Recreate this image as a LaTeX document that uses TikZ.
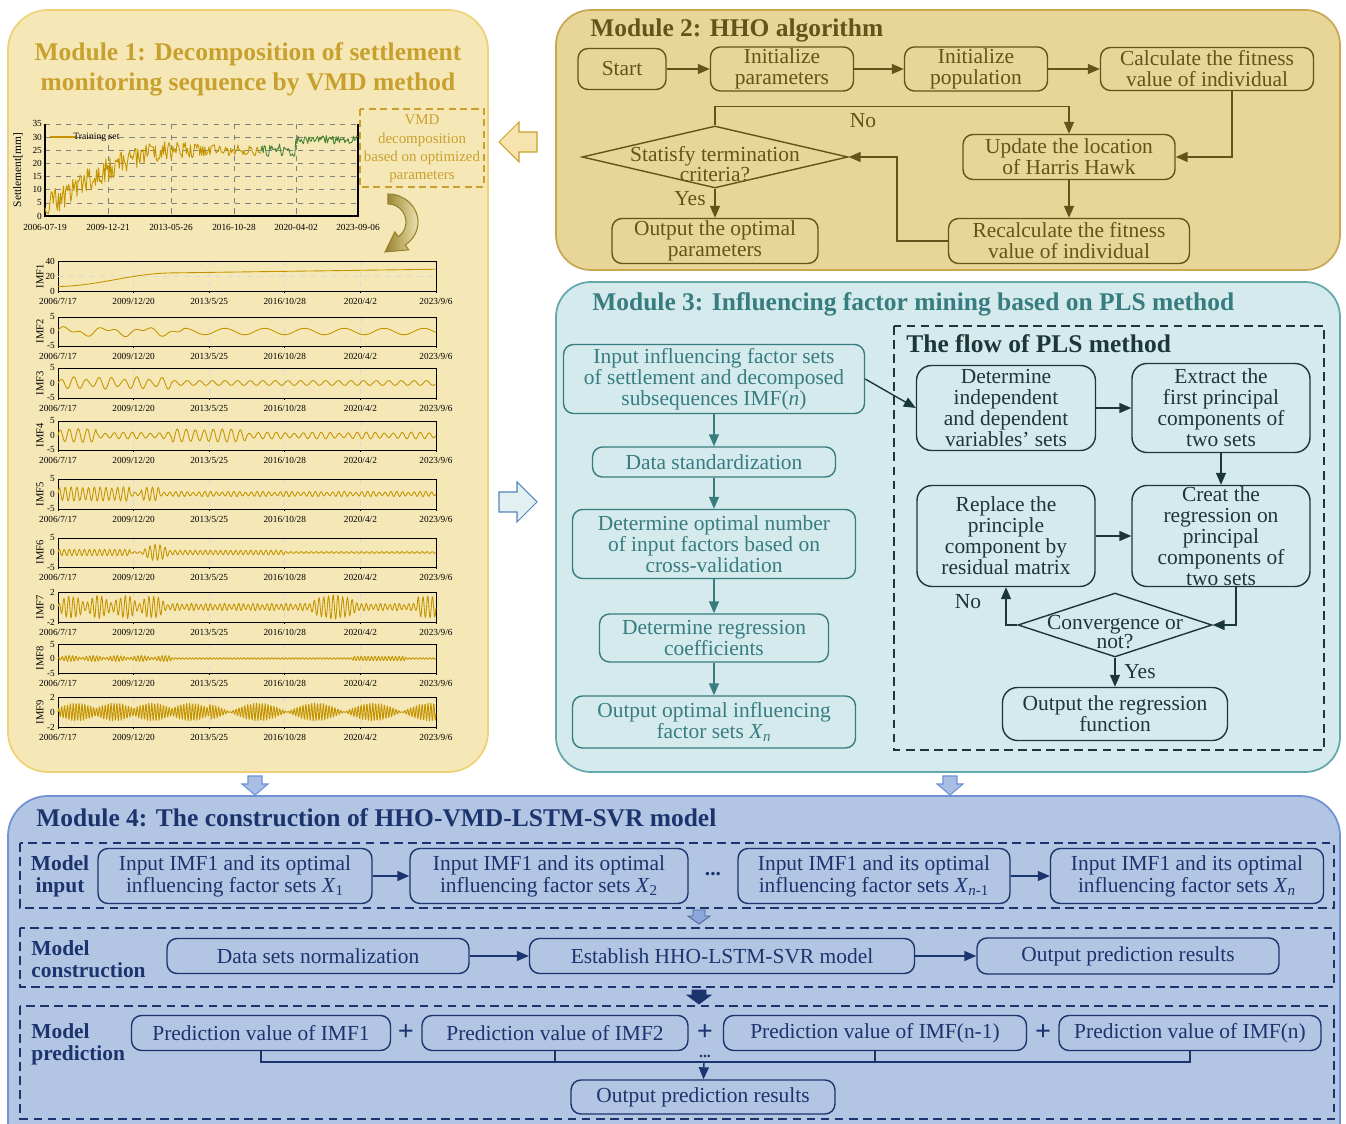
\documentclass[tikz,border=0pt]{standalone}
\usepackage{fontspec}
\setmainfont{Liberation Serif}
\usetikzlibrary{calc,arrows.meta,shapes.geometric}

\definecolor{m1fill}{RGB}{246,232,182}
\definecolor{m1edge}{RGB}{240,208,120}
\definecolor{m1title}{RGB}{200,160,45}
\definecolor{imfgold}{RGB}{196,148,0}
\definecolor{testgreen}{RGB}{70,130,50}
\definecolor{curvedark}{RGB}{150,128,45}
\definecolor{curvelight}{RGB}{236,226,172}
\definecolor{m2fill}{RGB}{231,214,152}
\definecolor{m2edge}{RGB}{200,168,80}
\definecolor{hhotext}{RGB}{100,84,28}
\definecolor{m3fill}{RGB}{213,234,236}
\definecolor{m3edge}{RGB}{100,168,172}
\definecolor{m3text}{RGB}{55,125,128}
\definecolor{plstext}{RGB}{28,55,55}
\definecolor{m4fill}{RGB}{178,197,227}
\definecolor{m4edge}{RGB}{110,146,212}
\definecolor{m4text}{RGB}{28,52,110}

\def\flowfont{\fontsize{12.2}{12}\selectfont}
\def\modelfont{\fontsize{12.2}{12.5}\selectfont}
\def\headfont{\fontsize{14.5}{17}\selectfont\bfseries}
\def\axisfont{\fontsize{5.3}{5.5}\selectfont}

% one decomposed component: (top:bottom) name, upper, middle, lower tick
\def\imfpanel(#1:#2)#3#4#5#6{%
	\foreach \gx in {133.6,209.2,284.8,360.4}
		\draw[black!15, dashed, line width=0.4pt] (\gx,#1) -- (\gx,#2);
	\draw[line width=0.45pt] (58,#1) rectangle (436,#2);
	\foreach \gx in {58,133.6,209.2,284.8,360.4,436}
		\draw[line width=0.45pt] (\gx,#2) -- ++(0,2);
	\node[font=\axisfont, anchor=east, inner sep=1pt] (#3ya) at (57,#1) {#4};
	\node[font=\axisfont, anchor=east, inner sep=1pt] (#3yb) at (57,{(#1+#2)/2}) {#5};
	\node[font=\axisfont, anchor=east, inner sep=1pt] (#3yc) at (57,#2) {#6};
	\node[font=\fontsize{6}{6}\selectfont, rotate=90, inner sep=0pt] (#3lab) at (40,{(#1+#2)/2}) {#3};
	\foreach \gx/\gl [count=\k] in {58/{2006/7/17},133.6/{2009/12/20},209.2/{2013/5/25},284.8/{2016/10/28},360.4/{2020/4/2},436/{2023/9/6}}
		\node[font=\axisfont, inner sep=0pt] (#3x\k) at (\gx,#2+10) {\gl};
}

\begin{document}
\begin{tikzpicture}[x=0.02cm, y=-0.02cm,
	imfline/.style={imfgold, line width=0.5pt, line join=round},
	m2box/.style={draw=hhotext, line width=0.8pt, rounded corners=0.2cm, text=hhotext, font=\flowfont, align=center, inner sep=1pt},
	m2line/.style={draw=hhotext, line width=0.8pt, -{Triangle[length=2.4mm,width=2mm]}},
	m3box/.style={draw=m3text, line width=0.8pt, rounded corners=0.2cm, text=m3text, font=\flowfont, align=center, inner sep=1pt},
	m3line/.style={draw=m3text, line width=0.8pt, -{Triangle[length=2.4mm,width=2mm]}},
	plsbox/.style={draw=plstext, line width=0.8pt, rounded corners=0.3cm, text=plstext, font=\flowfont, align=center, inner sep=0pt},
	plsline/.style={draw=plstext, line width=0.8pt, -{Triangle[length=2.4mm,width=2mm]}},
	m4box/.style={draw=m4text, line width=0.8pt, rounded corners=0.2cm, text=m4text, font=\modelfont, align=center, inner sep=1pt},
	m4line/.style={draw=m4text, line width=0.8pt, -{Triangle[length=2.4mm,width=2mm]}},
	m4frame/.style={draw=m4text, line width=0.9pt, dash pattern=on 5pt off 3pt},
	m4lab/.style={text=m4text, font=\fontsize{12.2}{12.5}\selectfont\bfseries, inner sep=0pt},
	plussign/.style={text=m4text, font=\fontsize{16}{16}\selectfont\bfseries, inner sep=0pt}]
	%%%%% START %%%%%
	\useasboundingbox (0,0) rectangle (1346,1124);
	\clip (0,0) rectangle (1346,1124);
	
	% module frames
	\draw[fill=m1fill, draw=m1edge, line width=1pt, rounded corners=0.8cm] (8,10) rectangle (488,772);
	\draw[fill=m2fill, draw=m2edge, line width=1pt, rounded corners=0.7cm] (556,10) rectangle (1340,270);
	\draw[fill=m3fill, draw=m3edge, line width=1pt, rounded corners=0.7cm] (556,282) rectangle (1340,772);
	\draw[fill=m4fill, draw=m4edge, line width=1pt, rounded corners=0.8cm] (8,796) rectangle (1340,1170);
	
	% block arrows between modules
	\draw[fill=m1edge!60, draw=m1title, line width=0.6pt] (499,142) -- (519,122) -- (519,132) -- (537,132) -- (537,152) -- (519,152) -- (519,162) -- cycle;
	\draw[fill=m3fill!70!white, draw=m3edge!80!blue, line width=0.6pt] (537,502) -- (517,482) -- (517,492) -- (499,492) -- (499,512) -- (517,512) -- (517,522) -- cycle;
	\foreach \ax in {255,950}
		\draw[fill=m4edge!60, draw=m4edge, line width=0.6pt] (\ax-7,776) -- (\ax+7,776) -- (\ax+7,784) -- (\ax+13,784) -- (\ax,795) -- (\ax-13,784) -- (\ax-7,784) -- cycle;
	
	%%%%% MODULE 1 %%%%%
	\node[text=m1title, font=\headfont, align=center] (m1head) at (248,69) {Module 1: Decomposition of settlement\\monitoring sequence by VMD method};
	
	% settlement record
	\foreach \gy in {5,10,...,35}
		\draw[black!50, dashed, line width=0.35pt] (45,{216-2.63*\gy}) -- (358,{216-2.63*\gy});
	\foreach \gx in {108,171,234,296}
		\draw[black!50, dashed, line width=0.35pt] (\gx,124) -- (\gx,216);
	\draw[line width=0.6pt] (45,124) -- (45,216) -- (358,216) -- (358,124);
	\foreach \gy [count=\k] in {0,5,...,35}
		\node[font=\axisfont, anchor=east, inner sep=1pt] (sy\k) at (44,{216-2.63*\gy}) {\gy};
	\foreach \gx/\gl [count=\k] in {45/2006-07-19,108/2009-12-21,171/2013-05-26,234/2016-10-28,296/2020-04-02,358/2023-09-06}
		\node[font=\axisfont, inner sep=0pt] (sx\k) at (\gx,227) {\gl};
	\node[font=\fontsize{6.5}{7}\selectfont, rotate=90, inner sep=0pt] (sylab) at (18,170) {Settlement[mm]};
	
	\pgfmathsetseed{11}
	\draw[imfline] plot[domain=0:0.69, samples=210] ({45+313*\x}, {216-2.63*max(0.5,min(31.5, 3+22*sin(90*min(\x/0.42,1)) + (6-6.5*min(\x,0.6))*rand))});
	\draw[testgreen, line width=0.5pt, line join=round] plot[domain=0.69:1, samples=90] ({45+313*\x}, {216-2.63*max(0.5,min(31.5, 25+4*(\x>0.8) + (2.4-0.8*(\x>0.8))*rand))});
	\draw[imfgold, line width=0.6pt] (50,137) -- (76,137);
	\node[font=\fontsize{5.5}{6}\selectfont, anchor=west, inner sep=0pt] (legend) at (73,137) {Training set};
	
	% VMD step
	\draw[m1title, line width=1.2pt, dash pattern=on 4pt off 2.5pt] (360,109) rectangle (484,187);
	\node[text=m1title, font=\fontsize{8.5}{10.4}\selectfont, align=center] (vmd) at (422,149) {VMD\\decomposition\\based on optimized\\parameters};
	\draw[draw=curvedark, line width=0.6pt, left color=curvedark, right color=curvelight]
		(388,194) arc[start angle=-90, end angle=55, x radius=30, y radius=28]
		-- (408.7,249.8) -- (385,252) -- (394.9,231.8) -- (398.3,236.7)
		arc[start angle=55, end angle=-90, x radius=18, y radius=18] -- cycle;
	
	% decomposed components
	\imfpanel(261:291){IMF1}{40}{20}{0}
	\draw[black!15, dashed, line width=0.4pt] (58,276) -- (436,276);
	\draw[imfline] plot[domain=0:1, samples=120] ({58+378*\x}, {291-0.75*(6+16*sin(90*min(\x/0.3,1))^2+7*\x)});
	
	\imfpanel(317:346){IMF2}{5}{0}{-5}
	\draw[imfline] plot[domain=0:1, samples=220] ({58+378*\x}, {331.5-2.9*(1.1*sin(360*frac(\x*9.5)+20) + 0.7*sin(360*frac(\x*21))*(\x<0.33))});
	
	\imfpanel(368:398){IMF3}{5}{0}{-5}
	\draw[imfline] plot[domain=0:1, samples=320] ({58+378*\x}, {383-3*(0.8+1.3*(\x<0.3)*abs(sin(360*frac(\x*6))))*sin(360*frac(\x*30))});
	
	\imfpanel(421:450){IMF4}{5}{0}{-5}
	\draw[imfline] plot[domain=0:1, samples=420] ({58+378*\x}, {435.5-2.9*(0.7+1.2*(\x<0.1)+1.1*(\x>0.3)*(\x<0.5)+0.5*abs(sin(360*frac(\x*4))))*sin(360*frac(\x*42))});
	
	\imfpanel(479:509){IMF5}{5}{0}{-5}
	\draw[imfline] plot[domain=0:1, samples=520] ({58+378*\x}, {494-3*(0.5+1.5*(\x<0.19)+1.4*(\x>0.22)*(\x<0.27)+0.4*abs(sin(360*frac(\x*7))))*sin(360*frac(\x*65))});
	
	\imfpanel(538:567){IMF6}{5}{0}{-5}
	\draw[imfline] plot[domain=0:1, samples=560] ({58+378*\x}, {552.5-2.9*(0.3+0.8*(\x<0.19)+2.6*(\x>0.22)*(\x<0.3)*abs(sin(180*frac((\x-0.22)/0.08)))+0.5*(\x>0.3)*(\x<0.6))*sin(360*frac(\x*75))});
	
	\imfpanel(592:622){IMF7}{2}{0}{-2}
	\draw[imfline] plot[domain=0:1, samples=620] ({58+378*\x}, {607-7.5*(0.3+1.1*(\x<0.29)*abs(sin(360*frac(\x*7)))+1.2*(\x>0.66)*(\x<0.8)*abs(sin(180*frac((\x-0.66)/0.14)))+1*(\x>0.95)+0.2*abs(sin(360*frac(\x*12))))*sin(360*frac(\x*80))});
	
	\imfpanel(644:673){IMF8}{5}{0}{-5}
	\draw[imfline] plot[domain=0:1, samples=720] ({58+378*\x}, {658.5-2.9*(0.25+0.8*(\x<0.3)*abs(sin(360*frac(\x*8)))+0.5*(\x>0.78)*(\x<0.92))*sin(360*frac(\x*110))});
	
	\imfpanel(697:727){IMF9}{2}{0}{-2}
	\draw[imfline] plot[domain=0:1, samples=820] ({58+378*\x}, {712-7.5*((\x<0.4)*(0.5+0.7*abs(sin(360*frac(\x*5))))+(\x>=0.4)*1.2*abs(sin(360*frac(\x*3.3))))*sin(360*frac(\x*130))});
	
	%%%%% MODULE 2 %%%%%
	\node[text=hhotext, font=\headfont, anchor=west, inner sep=0pt] (m2head) at (590,30) {Module 2: HHO algorithm};
	
	\node[m2box, minimum width=1.76cm, minimum height=0.82cm] (start) at (622,69) {Start};
	\node[m2box, minimum width=2.86cm, minimum height=0.86cm] (initpar) at (782,69) {Initialize\\parameters};
	\node[m2box, minimum width=2.86cm, minimum height=0.86cm] (initpop) at (976,69) {Initialize\\population};
	\node[m2box, minimum width=4.26cm, minimum height=0.86cm] (calcfit) at (1207,69) {Calculate the fitness\\value of individual};
	\node[m2box, minimum width=4.24cm, minimum height=0.9cm] (update) at (1069,157) {Update the location\\of Harris Hawk};
	\node[m2box, minimum width=4.82cm, minimum height=0.9cm] (recalc) at (1069,241) {Recalculate the fitness\\value of individual};
	\node[draw=hhotext, line width=0.8pt, diamond, inner sep=0pt, minimum width=5.32cm, minimum height=1.24cm] (stop) at (715,157) {};
	\node[text=hhotext, font=\fontsize{12.2}{9.5}\selectfont, align=center, inner sep=0pt] (stoptxt) at (715,164) {Statisfy termination\\criteria?};
	\node[m2box, minimum width=4.12cm, minimum height=0.9cm] (optout) at (715,241) {Output the optimal\\parameters};
	
	\draw[m2line] (start) -- (initpar);
	\draw[m2line] (initpar) -- (initpop);
	\draw[m2line] (initpop) -- (calcfit);
	\draw[m2line] ([xshift=0.5cm]calcfit.south) |- (update.east);
	\draw[m2line] (update) -- (recalc);
	\draw[m2line] (recalc.west) -- ++(-51,0) |- (stop.east);
	\draw[m2line] (stop.north) -- ++(0,-19) -| (update.north);
	\draw[m2line] (stop) -- (optout);
	\node[text=hhotext, font=\flowfont] (hhono) at (863,121) {No};
	\node[text=hhotext, font=\flowfont] (hhoyes) at (690,199) {Yes};
	
	%%%%% MODULE 3 %%%%%
	\node[text=m3text, font=\headfont, anchor=west, inner sep=0pt] (m3head) at (592,304) {Module 3: Influencing factor mining based on PLS method};
	
	\node[m3box, minimum width=6.02cm, minimum height=1.38cm] (facin) at (714,379) {Input influencing factor sets\\of settlement and decomposed\\subsequences IMF(\textit{n})};
	\node[m3box, minimum width=4.86cm, minimum height=0.6cm] (stdz) at (714,462) {Data standardization};
	\node[m3box, minimum width=5.66cm, minimum height=1.38cm] (optnum) at (714,544) {Determine optimal number\\of input factors based on\\cross-validation};
	\node[m3box, minimum width=4.58cm, minimum height=0.96cm] (coef) at (714,638) {Determine regression\\coefficients};
	\node[m3box, minimum width=5.66cm, minimum height=1.04cm] (facout) at (714,722) {Output optimal influencing\\factor sets \textit{X}\textsubscript{\textit{n}}};
	
	\draw[m3line] (facin) -- (stdz);
	\draw[m3line] (stdz) -- (optnum);
	\draw[m3line] (optnum) -- (coef);
	\draw[m3line] (coef) -- (facout);
	
	% PLS flow
	\draw[plstext, line width=0.8pt, dash pattern=on 5pt off 3pt] (894,326) rectangle (1324,750);
	\node[text=plstext, font=\headfont, anchor=west, inner sep=0pt] (plshead) at (906,344) {The flow of PLS method};
	
	\node[plsbox, minimum width=3.58cm, minimum height=1.7cm] (indep) at (1006,408) {Determine\\independent\\and dependent\\variables’ sets};
	\node[plsbox, minimum width=3.56cm, minimum height=1.78cm] (extract) at (1221,408) {Extract the\\first principal\\components of\\two sets};
	\node[plsbox, minimum width=3.56cm, minimum height=2.02cm] (replace) at (1006,536) {Replace the\\principle\\component by\\residual matrix};
	\node[plsbox, minimum width=3.56cm, minimum height=2.02cm] (creat) at (1221,536) {Creat the\\regression on\\principal\\components of\\two sets};
	\node[draw=plstext, line width=0.8pt, diamond, inner sep=0pt, minimum width=3.88cm, minimum height=1.28cm] (conv) at (1115,625) {};
	\node[text=plstext, font=\fontsize{12.2}{11.3}\selectfont, align=center, inner sep=0pt] (convtxt) at (1115,632) {Convergence or\\not?};
	\node[plsbox, minimum width=4.5cm, minimum height=1.06cm] (regout) at (1115,714) {Output the regression\\function};
	
	\draw[plsline] (facin.east) -- (indep.west);
	\draw[plsline] (indep) -- (extract);
	\draw[plsline] (extract) -- (creat);
	\draw[plsline] (replace) -- (creat);
	\draw[plsline] ([xshift=0.3cm]creat.south) |- (conv.east);
	\draw[plsline] (conv.west) -| (replace.south);
	\draw[plsline] (conv) -- (regout);
	\node[text=plstext, font=\flowfont] (plsno) at (968,602) {No};
	\node[text=plstext, font=\flowfont] (plsyes) at (1140,672) {Yes};
	
	%%%%% MODULE 4 %%%%%
	\node[text=m4text, font=\headfont, anchor=west, inner sep=0pt] (m4head) at (36,818) {Module 4: The construction of HHO-VMD-LSTM-SVR model};
	
	\draw[m4frame] (20,843) rectangle (1334,908);
	\draw[m4frame] (20,928) rectangle (1334,987);
	\draw[m4frame] (20,1006) rectangle (1334,1119);
	\draw[fill=m4edge!80, draw=m4edge!70!black, line width=0.5pt] (693,910) -- (705,910) -- (705,916) -- (710,916) -- (699,924) -- (688,916) -- (693,916) -- cycle;
	\draw[fill=m4text, draw=m4text, line width=0.5pt] (692,990) -- (706,990) -- (706,995) -- (711,995) -- (699,1004) -- (687,995) -- (692,995) -- cycle;
	
	\node[m4lab, align=center] (lblin) at (60,876) {Model\\input};
	\node[m4lab, align=left, anchor=west] (lblcon) at (31,959) {Model\\construction};
	\node[m4lab, align=left, anchor=west] (lblpre) at (31,1044) {Model\\prediction};
	
	\node[m4box, minimum width=5.48cm, minimum height=1.1cm] (in1) at (235,876) {Input IMF1 and its optimal\\influencing factor sets \textit{X}\textsubscript{1}};
	\node[m4box, minimum width=5.56cm, minimum height=1.1cm] (in2) at (549,876) {Input IMF1 and its optimal\\influencing factor sets \textit{X}\textsubscript{2}};
	\node[text=m4text, font=\modelfont\bfseries] (indots) at (713,874) {...};
	\node[m4box, minimum width=5.44cm, minimum height=1.1cm] (in3) at (874,876) {Input IMF1 and its optimal\\influencing factor sets \textit{X}\textsubscript{\textit{n}-1}};
	\node[m4box, minimum width=5.46cm, minimum height=1.1cm] (in4) at (1187,876) {Input IMF1 and its optimal\\influencing factor sets \textit{X}\textsubscript{\textit{n}}};
	\draw[m4line] (in1) -- (in2);
	\draw[m4line] (in3) -- (in4);
	
	\node[m4box, minimum width=6.04cm, minimum height=0.7cm] (norm) at (318,956) {Data sets normalization};
	\node[m4box, minimum width=7.7cm, minimum height=0.7cm] (estab) at (722,956) {Establish HHO-LSTM-SVR model};
	\node[m4box, minimum width=6.04cm, minimum height=0.72cm] (predout) at (1128,956) {Output prediction results};
	\draw[m4line] (norm) -- (estab);
	\draw[m4line] (estab) -- (predout);
	
	\node[m4box, minimum width=5.18cm, minimum height=0.7cm] (pred1) at (261,1033) {Prediction value of IMF1};
	\node[m4box, minimum width=5.32cm, minimum height=0.7cm] (pred2) at (555,1033) {Prediction value of IMF2};
	\node[m4box, minimum width=6.06cm, minimum height=0.7cm] (pred3) at (875,1033) {Prediction value of IMF(n-1)};
	\node[m4box, minimum width=5.24cm, minimum height=0.7cm] (pred4) at (1190,1033) {Prediction value of IMF(n)};
	\node[plussign] (plus1) at (406,1033) {+};
	\node[plussign] (plus2) at (705,1033) {+};
	\node[plussign] (plus3) at (1043,1033) {+};
	\node[text=m4text, font=\fontsize{9}{9}\selectfont\bfseries, inner sep=0pt] (pdots) at (705,1056) {...};
	\node[m4box, minimum width=5.28cm, minimum height=0.68cm] (finalout) at (703,1097) {Output prediction results};
	
	\coordinate (spine) at (704,1062);
	\draw[m4text, line width=0.8pt] (pred1.south) |- (spine) -| (pred4.south);
	\draw[m4text, line width=0.8pt] (pred2.south) -- (pred2.south |- spine);
	\draw[m4text, line width=0.8pt] (pred3.south) -- (pred3.south |- spine);
	\draw[m4line] (spine) -- (finalout);
	
	%%%%% END %%%%%
\end{tikzpicture}
\end{document}
